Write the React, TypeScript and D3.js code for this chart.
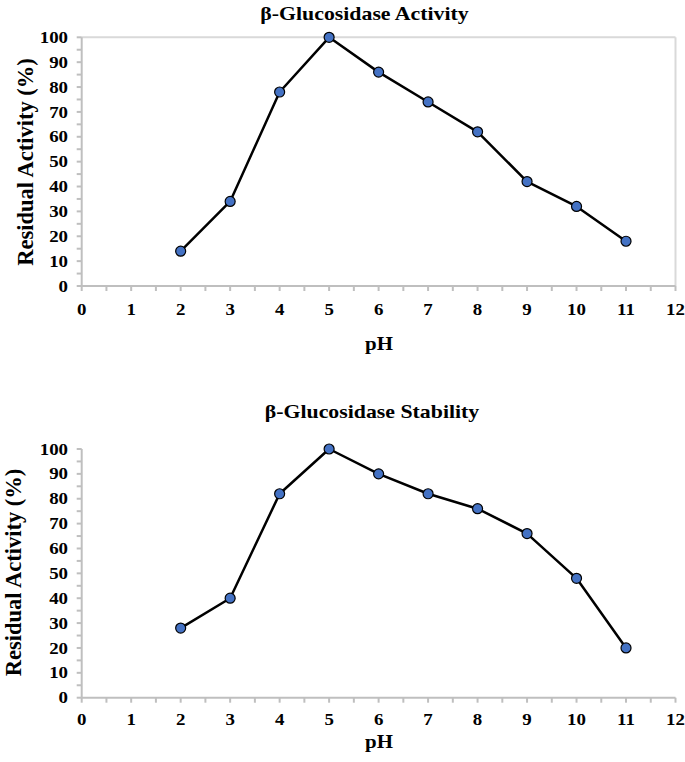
import React from "react";
import * as d3 from "d3";

const pH = [2, 3, 4, 5, 6, 7, 8, 9, 10, 11];
const activity = [14, 34, 78, 100, 86, 74, 62, 42, 32, 18];
const stability = [28, 40, 82, 100, 90, 82, 76, 66, 48, 20];
const xTicks = d3.range(0, 13, 1);
const xMinor = d3.range(0, 12.01, 0.5);
const yTicks = d3.range(0, 101, 10);
const yMinor = d3.range(0, 100.01, 5);

const FONT = "'Liberation Serif', 'Times New Roman', serif";

type ChartProps = {
  values: number[];
  title: string;
  top: number;
  bottom: number;
  box: boolean;
  titleX: number;
  titleY: number;
  labelX: number;
  labelY: number;
  pHY: number;
  tickLabelDy: number;
};

function T(props: { x: number; y: number; size: number; sx?: number; anchor?: string; rotate?: boolean; children: React.ReactNode; dy?: string }) {
  const tr = `translate(${props.x},${props.y})${props.rotate ? " rotate(-90)" : ""} scale(${props.sx ?? 1.18},1)`;
  return (
    <text
      transform={tr}
      textAnchor={props.anchor || "middle"}
      fontFamily={FONT}
      fontWeight="bold"
      fontSize={props.size}
      fill="#000"
      dy={props.dy}
    >
      {props.children}
    </text>
  );
}

function Chart(p: ChartProps) {
  const x = d3.scaleLinear().domain([0, 12]).range([81.7, 675.5]);
  const y = d3.scaleLinear().domain([0, 100]).range([p.bottom, p.top]);
  const line = d3
    .line<number>()
    .x((_, i) => x(pH[i]))
    .y((d) => y(d));
  const axisColor = "#bfbfbf";
  return (
    <g>
      {p.box && (
        <g stroke="#d9d9d9" strokeWidth={2} fill="none">
          <line x1={x(0)} x2={x(12)} y1={y(100)} y2={y(100)} />
          <line x1={x(12)} x2={x(12)} y1={y(100)} y2={y(0)} />
        </g>
      )}
      <g stroke={axisColor} strokeWidth={2}>
        <line x1={x(0)} x2={x(12)} y1={y(0)} y2={y(0)} />
        <line x1={x(0)} x2={x(0)} y1={y(0)} y2={y(100)} />
        {xMinor.map((v) => (
          <line key={"xt" + v} x1={x(v)} x2={x(v)} y1={y(0)} y2={y(0) + 5} />
        ))}
        {yMinor.map((v) => (
          <line key={"yt" + v} x1={x(0) - 5} x2={x(0)} y1={y(v)} y2={y(v)} />
        ))}
      </g>
      {xTicks.map((v) => (
        <T key={"xl" + v} x={x(v)} y={y(0) + p.tickLabelDy} size={16} dy="0.35em">
          {v}
        </T>
      ))}
      {yTicks.map((v) => (
        <T key={"yl" + v} x={68} y={y(v)} size={16} anchor="end" dy="0.35em">
          {v}
        </T>
      ))}
      <T x={p.titleX} y={p.titleY} size={18.5}>
        {p.title}
      </T>
      <T x={379} y={p.pHY} size={19} sx={1.1}>
        pH
      </T>
      <T x={p.labelX} y={p.labelY} size={22.5} sx={1} rotate>
        Residual Activity (%)
      </T>
      <path d={line(p.values) || ""} fill="none" stroke="#000" strokeWidth={2.5} strokeLinejoin="round" />
      {p.values.map((v, i) => (
        <circle key={"c" + i} cx={x(pH[i])} cy={y(v)} r={5} fill="#4472C4" stroke="#000" strokeWidth={1.2} />
      ))}
    </g>
  );
}

export default function App() {
  return (
    <svg width={685} height={762} style={{ position: "absolute", left: 0, top: 0, background: "#fff" }}>
      <rect width={685} height={762} fill="#fff" />
      <Chart
        values={activity}
        title="β-Glucosidase Activity"
        top={37.3}
        bottom={286}
        box={true}
        titleX={364.5}
        titleY={20}
        labelX={33}
        labelY={162}
        pHY={350}
        tickLabelDy={23}
      />
      <Chart
        values={stability}
        title="β-Glucosidase Stability"
        top={449}
        bottom={697.7}
        box={false}
        titleX={372}
        titleY={417.5}
        labelX={20.5}
        labelY={572.5}
        pHY={747.5}
        tickLabelDy={22}
      />
    </svg>
  );
}
